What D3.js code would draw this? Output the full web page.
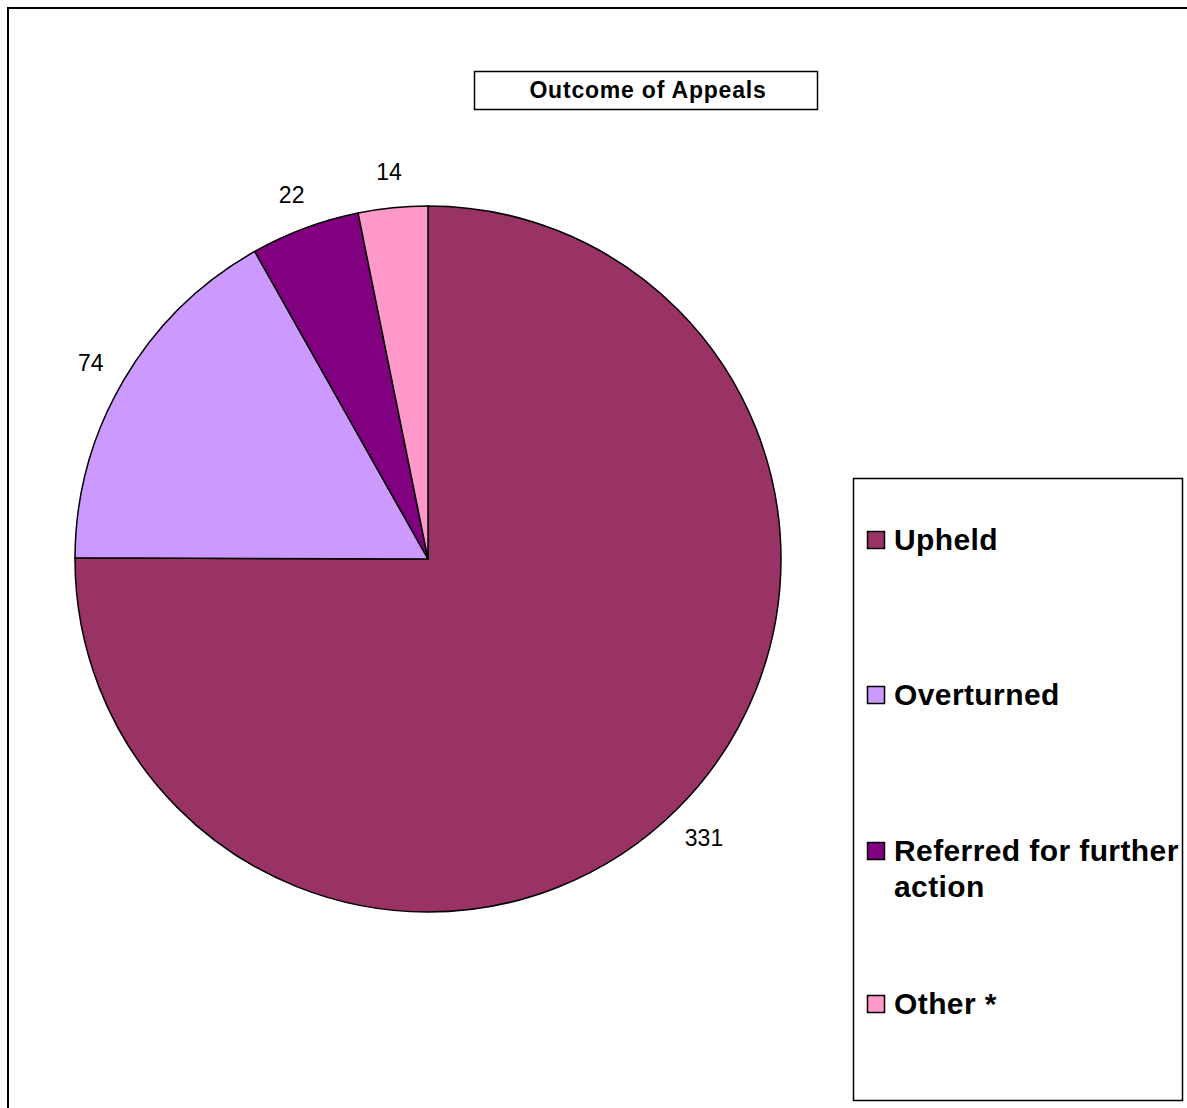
<!DOCTYPE html>
<html lang="en">
<head>
  <meta charset="UTF-8">
  <title>Outcome of Appeals</title>
  <script src="https://d3js.org/d3.v7.min.js"></script>
  <style>
    body { margin: 0; background: #fff; }
    text { font-family: "Liberation Sans", Arial, Helvetica, sans-serif; }
  </style>
</head>
<body>
  <div class="canvas"></div>
  <script>
    const categories = ['Upheld', 'Overturned', 'Referred for further action', 'Other *'];
    const values = [331, 74, 22, 14];
    const colors = ['#993366', '#CC99FF', '#800080', '#FF99CC'];

    const width = 1187;
    const height = 1108;
    const [cx, cy, radius] = [428, 559, 353];

    const svg = d3.select('.canvas')
                  .append('svg')
                  .attr('width', width)
                  .attr('height', height);

    // chart frame
    svg.append('rect')
      .attr('x', 8).attr('y', 8)
      .attr('width', width + 10).attr('height', height + 10)
      .attr('fill', 'none')
      .attr('stroke', '#000')
      .attr('stroke-width', 2);

    // title box
    svg.append('rect')
      .attr('x', 474.5).attr('y', 71.5)
      .attr('width', 343).attr('height', 38)
      .attr('fill', '#fff')
      .attr('stroke', '#000')
      .attr('stroke-width', 1.5);
    svg.append('text')
      .attr('x', 648).attr('y', 98)
      .attr('text-anchor', 'middle')
      .style('font-size', '23px')
      .style('font-weight', 'bold')
      .style('letter-spacing', '0.8px')
      .text('Outcome of Appeals');

    const data = categories.map((c, i) => ({ name: c, value: values[i], color: colors[i] }));

    const pie = d3.pie().value(d => d.value).sort(null);
    const arc = d3.arc().innerRadius(0).outerRadius(radius);
    const labelArc = d3.arc().innerRadius(radius + 38).outerRadius(radius + 38);

    const graph = svg.append('g').attr('transform', `translate(${cx}, ${cy})`);
    const arcs = pie(data);

    graph.selectAll('path')
      .data(arcs)
      .enter()
      .append('path')
      .attr('d', arc)
      .attr('fill', d => d.data.color)
      .attr('stroke', '#000')
      .attr('stroke-width', 1.5);

    graph.selectAll('text.lbl')
      .data(arcs)
      .enter()
      .append('text')
      .attr('class', 'lbl')
      .attr('transform', d => `translate(${labelArc.centroid(d)})`)
      .attr('text-anchor', 'middle')
      .attr('dy', '0.45em')
      .style('font-size', '23px')
      .text(d => d.data.value);

    // legend
    svg.append('rect')
      .attr('x', 853.5).attr('y', 478.5)
      .attr('width', 329).attr('height', 622)
      .attr('fill', '#fff')
      .attr('stroke', '#000')
      .attr('stroke-width', 1.5);

    const legendY = [540, 695, 851, 1004];
    const legend = svg.selectAll('g.item')
      .data(data)
      .enter()
      .append('g')
      .attr('class', 'item')
      .attr('transform', (d, i) => `translate(867, ${legendY[i]})`);

    legend.append('rect')
      .attr('x', 0.5).attr('y', -8.5)
      .attr('width', 17).attr('height', 17)
      .attr('fill', d => d.color)
      .attr('stroke', '#000')
      .attr('stroke-width', 1.5);

    legend.append('text')
      .attr('x', 27)
      .attr('y', 10)
      .style('font-size', '30px')
      .style('font-weight', 'bold')
      .style('letter-spacing', '0.4px')
      .each(function (d) {
        const t = d3.select(this);
        const lines = d.name === 'Referred for further action'
          ? ['Referred for further', 'action'] : [d.name];
        lines.forEach((l, j) => {
          t.append('tspan').attr('x', 27).attr('dy', j === 0 ? 0 : 36).text(l);
        });
      });
  </script>
</body>
</html>
